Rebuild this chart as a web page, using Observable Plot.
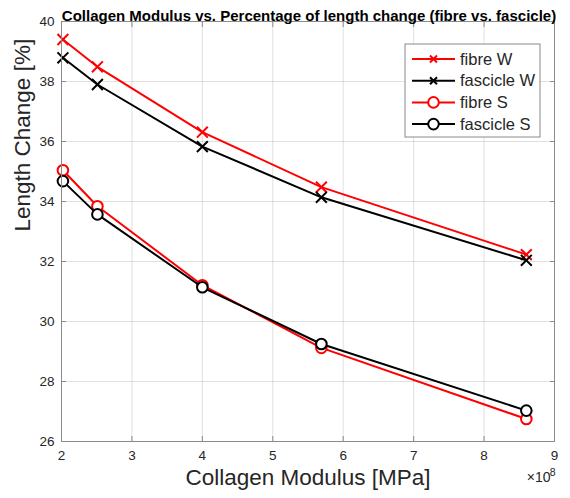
<!DOCTYPE html>
<html><head><meta charset="utf-8">
<script src="https://cdn.jsdelivr.net/npm/d3@7"></script>
<script src="https://cdn.jsdelivr.net/npm/@observablehq/plot@0.6"></script>
<style>
body{margin:0;background:#fff;}
#chart{width:570px;height:498px;}
</style>
</head><body><div id="chart"></div>
<script>
// Collagen modulus (×10^8 MPa)
const modulus = [2.02, 2.51, 4.0, 5.69, 8.6];
const fibreW    = [39.40, 38.49, 36.31, 34.48, 32.23];
const fascicleW = [38.79, 37.90, 35.83, 34.14, 32.04];
const fibreS    = [35.04, 33.84, 31.21, 29.12, 26.75];
const fascicleS = [34.68, 33.57, 31.14, 29.25, 27.03];
const seriesNames   = ["fibre W", "fascicle W", "fibre S", "fascicle S"];
const seriesValues  = [fibreW, fascicleW, fibreS, fascicleS];
const seriesColors  = ["#ff0000", "#000000", "#ff0000", "#000000"];
const seriesSymbols = ["times", "times", "circle", "circle"];
const xTicks = [2, 3, 4, 5, 6, 7, 8, 9];
const yTicks = [26, 28, 30, 32, 34, 36, 38, 40];
const titleText = "Collagen Modulus vs. Percentage of length change (fibre vs. fascicle)";
const xLabel = "Collagen Modulus [MPa]";
const yLabel = "Length Change [%]";

const font = "'Liberation Sans', Arial, Helvetica, sans-serif";
const axisCol = "#8a8a8a";
const textCol = "#262626";

const rows = [];
seriesNames.forEach((s, i) => modulus.forEach((m, j) => rows.push({series: s, x: m, y: seriesValues[i][j], idx: i})));

const seriesMarks = [];
seriesNames.forEach((s, i) => {
  const d = rows.filter(r => r.series === s);
  seriesMarks.push(Plot.line(d, {x: "x", y: "y", stroke: seriesColors[i], strokeWidth: 2}));
  if (seriesSymbols[i] === "circle") {
    seriesMarks.push(Plot.dot(d, {x: "x", y: "y", symbol: "circle", r: 5.3, stroke: seriesColors[i], strokeWidth: 2, fill: "white"}));
  } else {
    seriesMarks.push(Plot.dot(d, {x: "x", y: "y", symbol: "times", r: 5, stroke: seriesColors[i], strokeWidth: 2}));
  }
});

const chart = Plot.plot({
  width: 570, height: 498,
  marginLeft: 61, marginRight: 16, marginTop: 21, marginBottom: 57,
  style: {fontFamily: font, background: "white", fontSize: "13px"},
  x: {domain: [2, 9], ticks: xTicks},
  y: {domain: [26, 40], ticks: yTicks},
  marks: [
    Plot.gridX(xTicks, {stroke: "#000", strokeOpacity: 0.12, strokeWidth: 1}),
    Plot.gridY(yTicks, {stroke: "#000", strokeOpacity: 0.12, strokeWidth: 1}),
    ...seriesMarks,
    Plot.frame({stroke: axisCol, strokeWidth: 1}),
    Plot.axisX(xTicks, {anchor: "bottom", tickSize: -5, tickPadding: 14, fontSize: 13.5, color: textCol, stroke: axisCol, label: null}),
    Plot.axisX(xTicks, {anchor: "top", tickSize: -5, tickFormat: () => "", stroke: axisCol, label: null}),
    Plot.axisY(yTicks, {anchor: "left", tickSize: -5, tickPadding: 12, fontSize: 13.5, color: textCol, stroke: axisCol, label: null}),
    Plot.axisY(yTicks, {anchor: "right", tickSize: -5, tickFormat: () => "", stroke: axisCol, label: null}),
    Plot.text([titleText], {frameAnchor: "top", dx: 1, dy: -11, fontSize: 15, fontWeight: "bold", fill: "#000"}),
    Plot.text([xLabel], {frameAnchor: "bottom", dy: 43, fontSize: 22.5, fill: textCol}),
    Plot.text([yLabel], {frameAnchor: "left", dx: -39, rotate: -90, fontSize: 22.5, fill: textCol}),
    Plot.text(["×10"], {frameAnchor: "bottom-right", dx: -4, dy: 40, textAnchor: "end", fontSize: 14, fill: textCol}),
    Plot.text(["8"], {frameAnchor: "bottom-right", dx: 1, dy: 34, textAnchor: "end", fontSize: 10.5, fill: textCol})
  ]
});

// Legend box drawn inside the SVG
const svg = d3.select(chart);
const lg = svg.append("g").attr("transform", "translate(405,44)");
lg.append("rect").attr("x", 0).attr("y", 0).attr("width", 135).attr("height", 93)
  .attr("fill", "white").attr("stroke", axisCol).attr("stroke-width", 1);
seriesNames.forEach((s, i) => {
  const yy = 15 + i * 21.7;
  const g = lg.append("g").attr("transform", `translate(0,${yy})`);
  g.append("line").attr("x1", 7).attr("x2", 50).attr("y1", 0).attr("y2", 0)
    .attr("stroke", seriesColors[i]).attr("stroke-width", 2);
  if (seriesSymbols[i] === "circle") {
    g.append("circle").attr("cx", 28.5).attr("cy", 0).attr("r", 5.3)
      .attr("fill", "white").attr("stroke", seriesColors[i]).attr("stroke-width", 2);
  } else {
    const r = 3.5;
    g.append("path").attr("d", `M${28.5-r},${-r}L${28.5+r},${r}M${28.5-r},${r}L${28.5+r},${-r}`)
      .attr("stroke", seriesColors[i]).attr("stroke-width", 2);
  }
  g.append("text").attr("x", 55).attr("y", 0).attr("dy", "0.35em")
    .attr("text-anchor", "start")
    .attr("font-size", 16.5).attr("font-family", font).attr("fill", textCol).text(s);
});

document.getElementById("chart").appendChild(chart);
</script>
</body></html>
